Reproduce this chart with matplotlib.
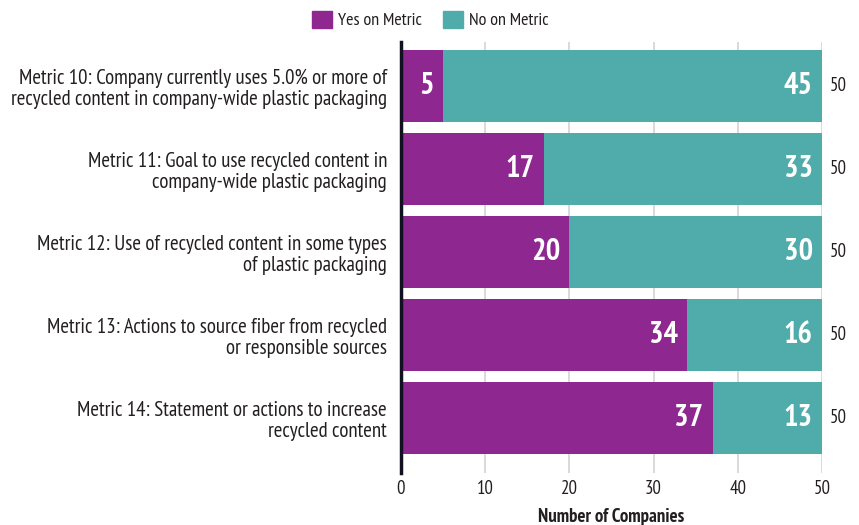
import matplotlib.pyplot as plt
from matplotlib.patches import Patch

plt.rcParams['font.family'] = ['PT Sans Narrow', 'DejaVu Sans']

labels = [
    'Metric 10: Company currently uses 5.0% or more of\nrecycled content in company-wide plastic packaging',
    'Metric 11: Goal to use recycled content in\ncompany-wide plastic packaging',
    'Metric 12: Use of recycled content in some types\nof plastic packaging',
    'Metric 13: Actions to source fiber from recycled\nor responsible sources',
    'Metric 14: Statement or actions to increase\nrecycled content',
]
yes_vals = [5, 17, 20, 34, 37]
no_vals = [45, 33, 30, 16, 13]
xticks = [0, 10, 20, 30, 40, 50]

purple = '#8E278F'
teal = '#4FACAA'
txt = '#231F20'

fig = plt.figure(figsize=(8.59, 5.25), dpi=100)
ax = fig.add_axes([0.4668, 0.099, 0.4901, 0.821])

ypos = list(range(len(labels)))
ax.barh(ypos, yes_vals, height=0.87, color=purple, zorder=2)
ax.barh(ypos, no_vals, left=yes_vals, height=0.87, color=teal, zorder=2)

for y, a, b in zip(ypos, yes_vals, no_vals):
    ax.text(a - 1.1, y, str(a), ha='right', va='center', color='white',
            fontsize=22, fontweight='bold', zorder=3)
    ax.text(a + b - 1.1, y, str(b), ha='right', va='center', color='white',
            fontsize=22, fontweight='bold', zorder=3)
    ax.text(a + b + 0.9, y, str(a + b), ha='left', va='center', color=txt,
            fontsize=13.5)

ax.set_xlim(0, 50)
ax.set_ylim(4.66, -0.53)
ax.set_xticks(xticks)
ax.set_xticklabels([str(t) for t in xticks], fontsize=13.5, color=txt)
ax.set_yticks(ypos)
ax.set_yticklabels(labels, fontsize=15, color=txt, linespacing=1.15)
ax.tick_params(axis='y', length=0, pad=10)
ax.tick_params(axis='x', length=0, pad=5)
ax.grid(axis='x', color='#D3D3D3', linewidth=1.2, zorder=0)

for s in ['top', 'right', 'bottom']:
    ax.spines[s].set_visible(False)
ax.spines['left'].set_linewidth(2.5)
ax.spines['left'].set_color('#111122')
ax.spines['left'].set_zorder(4)

ax.set_xlabel('Number of Companies', fontsize=13.5, fontweight='bold',
              color=txt, labelpad=7)

handles = [Patch(color=purple, label='Yes on Metric'),
           Patch(color=teal, label='No on Metric')]
fig.legend(handles=handles, loc='center', bbox_to_anchor=(0.501, 0.962), ncol=2,
           frameon=False, fontsize=13, handlelength=1.1, handleheight=1.1,
           handletextpad=0.3, columnspacing=1.2, labelcolor=txt)

fig.savefig('out.png', dpi=100)
